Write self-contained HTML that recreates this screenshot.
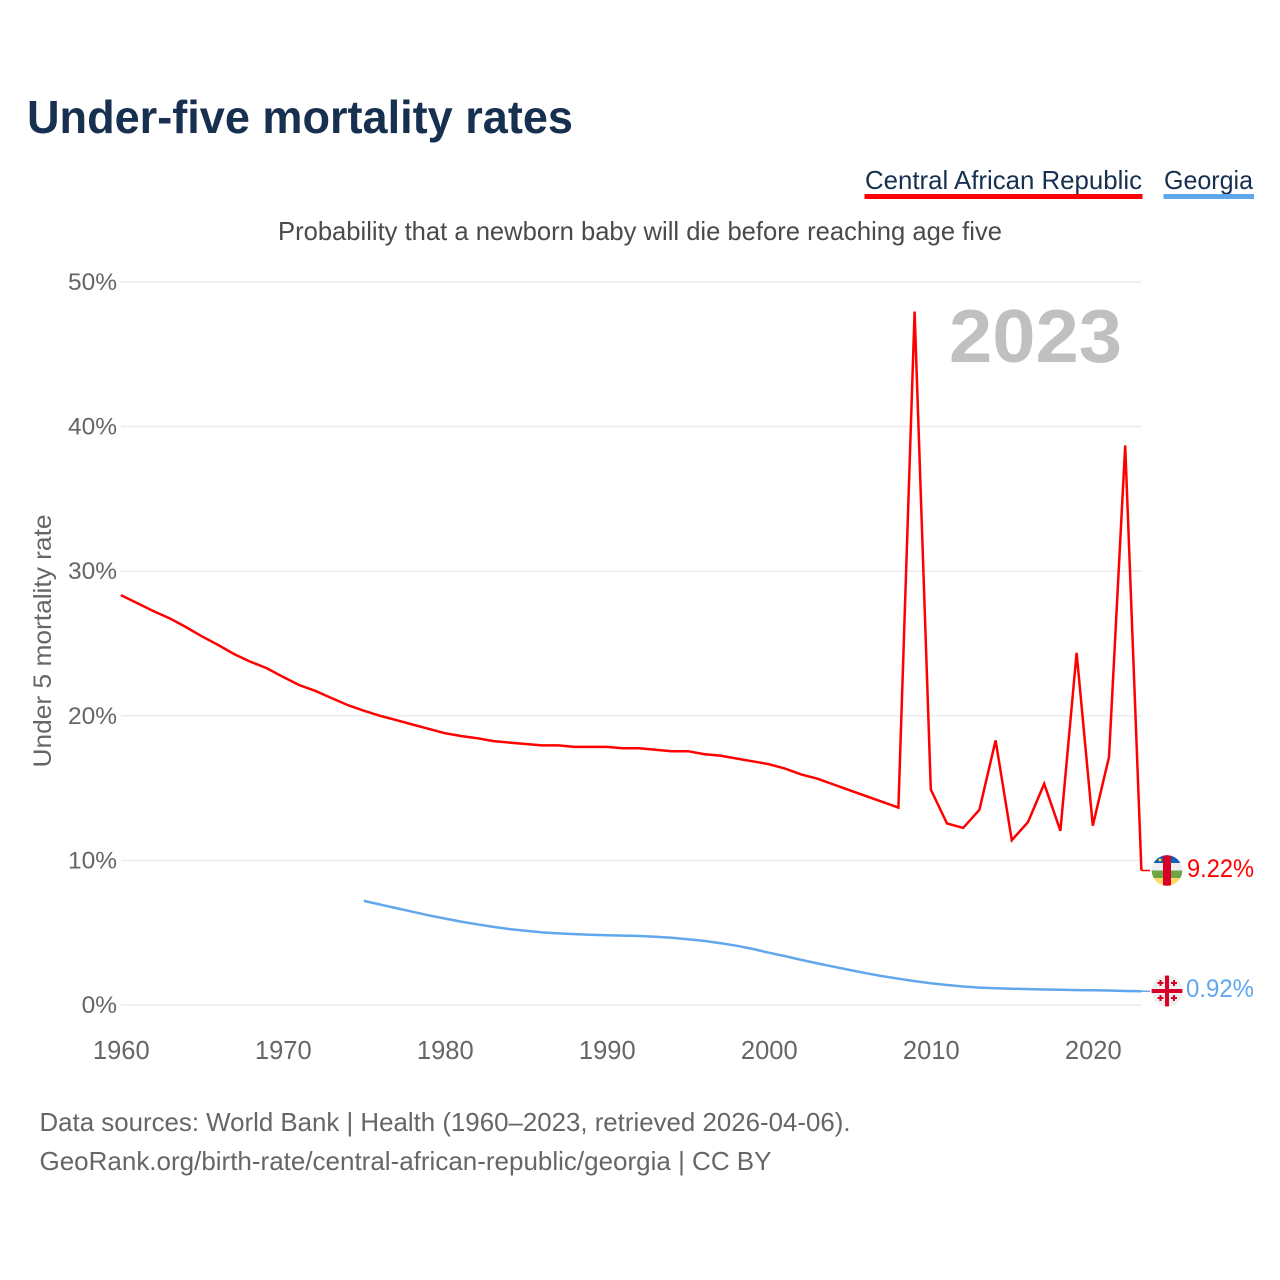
<!DOCTYPE html>
<html lang="en">
<head>
<meta charset="utf-8">
<title>Under-five mortality rates</title>
<style>
html,body{margin:0;padding:0;background:#fff;}
svg{display:block;font-family:"Liberation Sans",sans-serif;}
</style>
</head>
<body>
<svg id="chart" xmlns="http://www.w3.org/2000/svg" width="1280" height="1280" viewBox="0 0 1280 1280">
  <rect width="1280" height="1280" fill="#fff"/>
  <text x="27" y="133" font-size="46" font-weight="700" fill="#18304f" textLength="546" lengthAdjust="spacingAndGlyphs">Under-five mortality rates</text>
  <g>
    <text x="865" y="189" font-size="26" fill="#18304f" textLength="277" lengthAdjust="spacingAndGlyphs">Central African Republic</text>
    <rect x="864.500" y="194" width="278" height="5" fill="#ff0000"/>
  </g>
  <g>
    <text x="1164" y="189" font-size="26" fill="#18304f" textLength="89" lengthAdjust="spacingAndGlyphs">Georgia</text>
    <rect x="1163.500" y="194" width="90.500" height="5" fill="#61a7ee"/>
  </g>
  <text x="278" y="240" font-size="26" fill="#4a4a4a" textLength="724" lengthAdjust="spacingAndGlyphs">Probability that a newborn baby will die before reaching age five</text>
  <g id="grid"></g>
  <g id="yticks"></g>
  <g id="xticks"></g>
  <text transform="translate(51,641) rotate(-90)" text-anchor="middle" font-size="25" fill="#666" textLength="253" lengthAdjust="spacingAndGlyphs">Under 5 mortality rate</text>
  <text x="949" y="362" font-size="75" font-weight="700" fill="#c0c0c0" textLength="173" lengthAdjust="spacingAndGlyphs">2023</text>
  <g id="series"></g>

  <defs>
    <clipPath id="flag-caf-clip"><circle cx="1167" cy="870.500" r="15.300"/></clipPath>
    <clipPath id="flag-geo-clip"><circle cx="1167" cy="991" r="15.500"/></clipPath>
  </defs>
  <g clip-path="url(#flag-caf-clip)">
    <rect x="1151" y="855" width="32" height="8.200" fill="#0b5fb4"/>
    <rect x="1151" y="863" width="32" height="7.500" fill="#eeeeee"/>
    <rect x="1151" y="870.500" width="32" height="7.500" fill="#6da544"/>
    <rect x="1151" y="878" width="32" height="9" fill="#ffda66"/>
    <rect x="1163" y="855" width="8" height="32" fill="#d80027"/>
    <circle cx="1160" cy="860" r="1.500" fill="#ffda44"/>
  </g>
  <g clip-path="url(#flag-geo-clip)">
    <rect x="1151" y="975" width="32" height="32" fill="#eeeeee"/>
    <rect x="1165" y="975" width="4" height="32" fill="#d80027"/>
    <rect x="1151" y="989" width="32" height="4" fill="#d80027"/>
    <path d="M1157.500 982h2v-2h2v2h2v2h-2v2h-2v-2h-2zM1171 982h2v-2h2v2h2v2h-2v2h-2v-2h-2zM1157.500 997h2v-2h2v2h2v2h-2v2h-2v-2h-2zM1171 997h2v-2h2v2h2v2h-2v2h-2v-2h-2z" fill="#d80027"/>
  </g>
  <text id="label-caf" x="1187" y="877" font-size="25" fill="#ff0000" textLength="67" lengthAdjust="spacingAndGlyphs"></text>
  <text id="label-geo" x="1186" y="997" font-size="25" fill="#61a7ee" textLength="68" lengthAdjust="spacingAndGlyphs"></text>

  <text x="39.500" y="1131" font-size="26" fill="#666" textLength="811" lengthAdjust="spacingAndGlyphs">Data sources: World Bank | Health (1960–2023, retrieved 2026-04-06).</text>
  <text x="39.500" y="1170" font-size="26" fill="#666" textLength="732" lengthAdjust="spacingAndGlyphs">GeoRank.org/birth-rate/central-african-republic/georgia | CC BY</text>
</svg>
<script>
const yTickValues = [0, 10, 20, 30, 40, 50];
const xTickYears = [1960, 1970, 1980, 1990, 2000, 2010, 2020];
const cafStartYear = 1960;
const cafValues = [
  28.35, 27.8, 27.25, 26.75, 26.15, 25.5, 24.9, 24.27, 23.74, 23.3,
  22.7, 22.13, 21.73, 21.23, 20.75, 20.35, 20.0, 19.7, 19.4, 19.1,
  18.8, 18.6, 18.45, 18.25, 18.15, 18.05, 17.95, 17.95, 17.85, 17.85,
  17.85, 17.75, 17.75, 17.65, 17.55, 17.55, 17.35, 17.25, 17.05, 16.85,
  16.65, 16.35, 15.95, 15.65, 15.25, 14.85, 14.45, 14.05, 13.65, 47.95,
  14.9, 12.55, 12.25, 13.5, 18.3, 11.4, 12.65, 15.3, 12.05, 24.35,
  12.4, 17.15, 38.7, 9.3
];
const georgiaStartYear = 1975;
const georgiaValues = [
  7.2, 6.95, 6.7, 6.45, 6.2,
  5.98, 5.77, 5.58, 5.4, 5.25, 5.13, 5.02, 4.95, 4.9, 4.86,
  4.83, 4.8, 4.77, 4.72, 4.65, 4.55, 4.43, 4.28, 4.1, 3.88,
  3.62, 3.38, 3.12, 2.88, 2.65, 2.42, 2.2, 2.0, 1.82, 1.65,
  1.5, 1.38, 1.28, 1.2, 1.16, 1.13, 1.1, 1.07, 1.05, 1.03,
  1.02, 1.0, 0.97, 0.95
];
const endLabelCaf = "9.22%";
const endLabelGeorgia = "0.92%";

const SVG_NS = "http://www.w3.org/2000/svg";
const xScale = year => 120.8 + (year - 1960) * 16.2;
const yScale = value => 1005 - value * 14.46;
const CONNECTOR_X = 1150;

function make(tag, attrs, parent) {
  const el = document.createElementNS(SVG_NS, tag);
  for (const key in attrs) el.setAttribute(key, attrs[key]);
  parent.appendChild(el);
  return el;
}

const gridGroup = document.getElementById("grid");
const yTickGroup = document.getElementById("yticks");
const xTickGroup = document.getElementById("xticks");
const seriesGroup = document.getElementById("series");

yTickValues.forEach(v => {
  const line = make("line", {x1: 121, x2: 1141.500, y1: yScale(v), y2: yScale(v), stroke: "#ebebeb", "stroke-width": 1.500}, gridGroup);
  
  
  const label = make("text", {x: 117, y: yScale(v) + 8, "text-anchor": "end", "font-size": 24.500, fill: "#666"}, yTickGroup);
  
  
  label.textContent = v + "%";
});

xTickYears.forEach(year => {
  const label = make("text", {x: xScale(year) + 0.5, y: 1059, "text-anchor": "middle", "font-size": 25.500, fill: "#666"}, xTickGroup);
  
  
  label.textContent = year;
});

function seriesPoints(startYear, values) {
  return values.map((v, i) => xScale(startYear + i).toFixed(1) + "," + yScale(v).toFixed(1)).join(" ");
}

function drawConnector(startYear, values, color) {
  const lastYear = startYear + values.length - 1;
  const lastY = yScale(values[values.length - 1]);
  return make("line", {x1: xScale(lastYear), x2: CONNECTOR_X, y1: lastY, y2: lastY, stroke: color, "stroke-width": 1.500}, seriesGroup);
}

const georgiaLine = make("polyline", {points: seriesPoints(georgiaStartYear, georgiaValues), fill: "none", stroke: "#61a7ee", "stroke-width": 2.500, "stroke-linejoin": "round"}, seriesGroup);


const georgiaConnector = drawConnector(georgiaStartYear, georgiaValues, "#61a7ee");



const cafLine = make("polyline", {points: seriesPoints(cafStartYear, cafValues), fill: "none", stroke: "#ff0000", "stroke-width": 2.500, "stroke-linejoin": "miter"}, seriesGroup);


const cafConnector = drawConnector(cafStartYear, cafValues, "#ff0000");



document.getElementById("label-caf").textContent = endLabelCaf;
document.getElementById("label-geo").textContent = endLabelGeorgia;
</script>
</body>
</html>
